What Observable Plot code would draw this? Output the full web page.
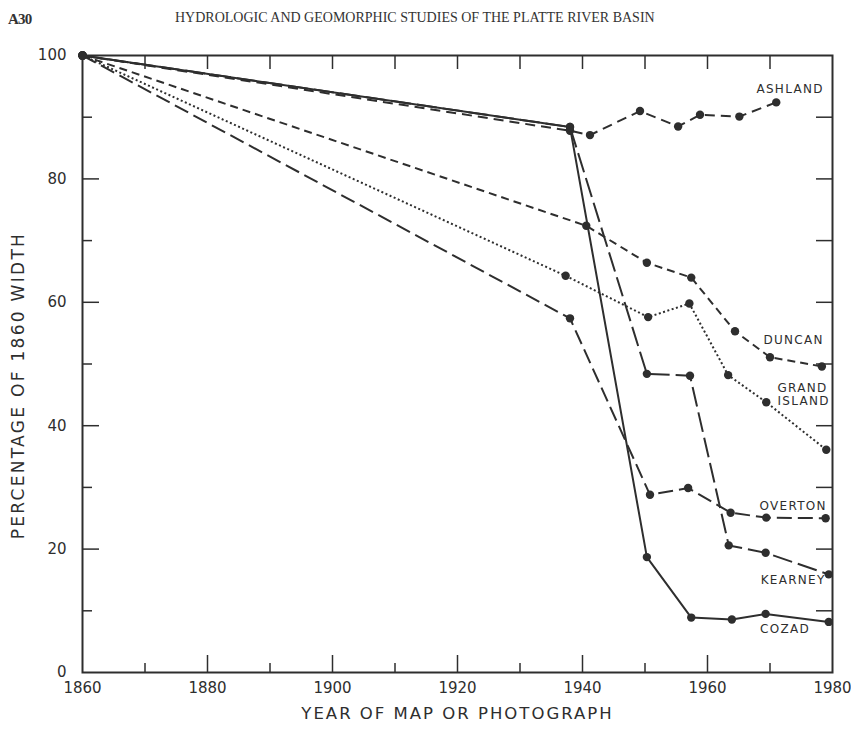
<!DOCTYPE html>
<html><head><meta charset="utf-8">
<script src="https://cdn.jsdelivr.net/npm/d3@7"></script>
<script src="https://cdn.jsdelivr.net/npm/@observablehq/plot@0.6"></script>
<style>
body{margin:0;background:#fff;}
#wrap{position:relative;width:851px;height:729px;}
#pg{position:absolute;left:8px;top:11px;font-family:"Liberation Serif",serif;font-weight:bold;font-size:15px;color:#333;letter-spacing:-0.8px;}
#title{position:absolute;left:175px;top:10px;font-family:"Liberation Serif",serif;font-size:14px;color:#333;letter-spacing:0px;white-space:nowrap;}
#chart{position:absolute;left:0;top:0;}
</style></head>
<body>
<div id="wrap">
<div id="chart"></div>
<div id="pg">A30</div>
<div id="title">HYDROLOGIC AND GEOMORPHIC STUDIES OF THE PLATTE RIVER BASIN</div>
</div>
<script>
// Data
const ashlandYears = [1860, 1938, 1941.2, 1949.2, 1955.3, 1958.8, 1965.1, 1971.0];
const ashlandVals  = [100, 87.8, 87.1, 91.0, 88.5, 90.4, 90.1, 92.4];
const duncanYears  = [1860, 1940.6, 1950.3, 1957.4, 1964.4, 1970.0, 1978.3];
const duncanVals   = [100, 72.4, 66.4, 64.0, 55.3, 51.1, 49.6];
const grandYears   = [1860, 1937.3, 1950.5, 1957.1, 1963.3, 1969.4, 1979.0];
const grandVals    = [100, 64.3, 57.6, 59.8, 48.2, 43.8, 36.1];
const overtonYears = [1860, 1938, 1950.8, 1956.9, 1963.7, 1969.4, 1978.9];
const overtonVals  = [100, 57.4, 28.8, 29.9, 25.9, 25.1, 25.0];
const kearneyYears = [1860, 1938, 1950.3, 1957.2, 1963.4, 1969.3, 1979.4];
const kearneyVals  = [100, 88.4, 48.4, 48.1, 20.6, 19.4, 15.9];
const cozadYears   = [1860, 1938, 1950.3, 1957.4, 1963.9, 1969.3, 1979.4];
const cozadVals    = [100, 88.4, 18.7, 8.9, 8.6, 9.5, 8.2];

const xTickLabels = [1860, 1880, 1900, 1920, 1940, 1960, 1980];
const xMinorTicks = [1870, 1890, 1910, 1930, 1950, 1970];
const xTopTicks   = [1870, 1880, 1890, 1900, 1910, 1920, 1930, 1940, 1950, 1960, 1970];
const yTickLabels = [0, 20, 40, 60, 80, 100];
const yMinorTicks = [10, 30, 50, 70, 90];
const yRightTicks = [10, 20, 30, 40, 50, 60, 70, 80, 90];

const labelsEnd = [
  {name: "ASHLAND", year: 1978.6, value: 94.6},
  {name: "DUNCAN", year: 1978.6, value: 53.8},
  {name: "OVERTON", year: 1979.1, value: 26.9},
  {name: "KEARNEY", year: 1978.9, value: 14.9}
];
const labelsStart = [
  {name: "GRAND\nISLAND", year: 1971.2, value: 45.1},
  {name: "COZAD", year: 1968.4, value: 7.1}
];
const xTitle = "YEAR OF MAP OR PHOTOGRAPH";
const yTitle = "PERCENTAGE OF 1860 WIDTH";

const mk = (ys, vs) => ys.map((y, i) => ({year: y, value: vs[i]}));
const ashland = mk(ashlandYears, ashlandVals);
const duncan = mk(duncanYears, duncanVals);
const grand = mk(grandYears, grandVals);
const overton = mk(overtonYears, overtonVals);
const kearney = mk(kearneyYears, kearneyVals);
const cozad = mk(cozadYears, cozadVals);
const allPts = [...ashland, ...duncan, ...grand, ...overton, ...kearney, ...cozad];

const W = 851, H = 729, mL = 82, mR = 19, mT = 55, mB = 57;
const pw = W - mL - mR, ph = H - mT - mB;
const ink = "#2e2e2e";
const font = "DejaVu Sans";

const line = (d, dash, sw = 2) => Plot.line(d, {x: "year", y: "value", stroke: ink, strokeWidth: sw, strokeDasharray: dash, strokeLinecap: "butt"});

const chart = Plot.plot({
  width: W, height: H,
  marginLeft: mL, marginRight: mR, marginTop: mT, marginBottom: mB,
  style: {fontFamily: font, background: "transparent"},
  x: {domain: [1860, 1980]},
  y: {domain: [0, 100]},
  marks: [
    Plot.frame({stroke: ink, strokeWidth: 2}),
    Plot.tickX(xTickLabels.slice(1, -1), {x: d => d, stroke: ink, strokeWidth: 1.5, insetTop: ph - 17}),
    Plot.tickX(xMinorTicks, {x: d => d, stroke: ink, strokeWidth: 1.5, insetTop: ph - 9}),
    Plot.tickX(xTopTicks, {x: d => d, stroke: ink, strokeWidth: 1.5, insetBottom: ph - 14}),
    Plot.tickY(yTickLabels.slice(1, -1), {y: d => d, stroke: ink, strokeWidth: 1.5, insetRight: pw - 17}),
    Plot.tickY(yMinorTicks, {y: d => d, stroke: ink, strokeWidth: 1.5, insetRight: pw - 10}),
    Plot.tickY(yRightTicks, {y: d => d, stroke: ink, strokeWidth: 1.5, insetLeft: pw - 16}),
    Plot.axisX({ticks: xTickLabels, tickSize: 0, tickPadding: 10, tickFormat: d => String(d), fontSize: 15, label: null, fill: ink}),
    Plot.axisY({ticks: yTickLabels, tickSize: 0, tickPadding: 16, fontSize: 15, label: null, fill: ink}),
    Plot.text([xTitle], {frameAnchor: "bottom", dy: 46, fontSize: 16.5, fill: ink}),
    Plot.text([yTitle], {x: () => 1849.8, y: () => 46.5, rotate: -90, fontSize: 17, fill: ink, clip: false}),
    line(ashland, "10,6"),
    line(duncan, "8,5"),
    line(grand, "2,2.5", 2),
    line(overton, "15,6"),
    line(kearney, "20,6"),
    line(cozad, null),
    Plot.dot(allPts, {x: "year", y: "value", r: 4.2, fill: ink}),
    Plot.text(labelsEnd, {x: "year", y: "value", text: "name", textAnchor: "end", fontSize: 12, fill: ink}),
    Plot.text(labelsStart, {x: "year", y: "value", text: "name", textAnchor: "start", fontSize: 12, fill: ink, lineHeight: 1.05})
  ]
});
// letter spacing to match the wide hand lettering
const spacing = new Map([[xTitle, "2px"], [yTitle, "2.3px"]]);
const seriesNames = new Set([...labelsEnd, ...labelsStart].map(d => d.name.replace("\n", "")));
d3.select(chart).selectAll("text").each(function() {
  const t = this.textContent;
  if (spacing.has(t)) this.setAttribute("letter-spacing", spacing.get(t));
  else if (seriesNames.has(t)) this.setAttribute("letter-spacing", "1.3px");
});
document.getElementById("chart").appendChild(chart);
</script>
</body></html>
